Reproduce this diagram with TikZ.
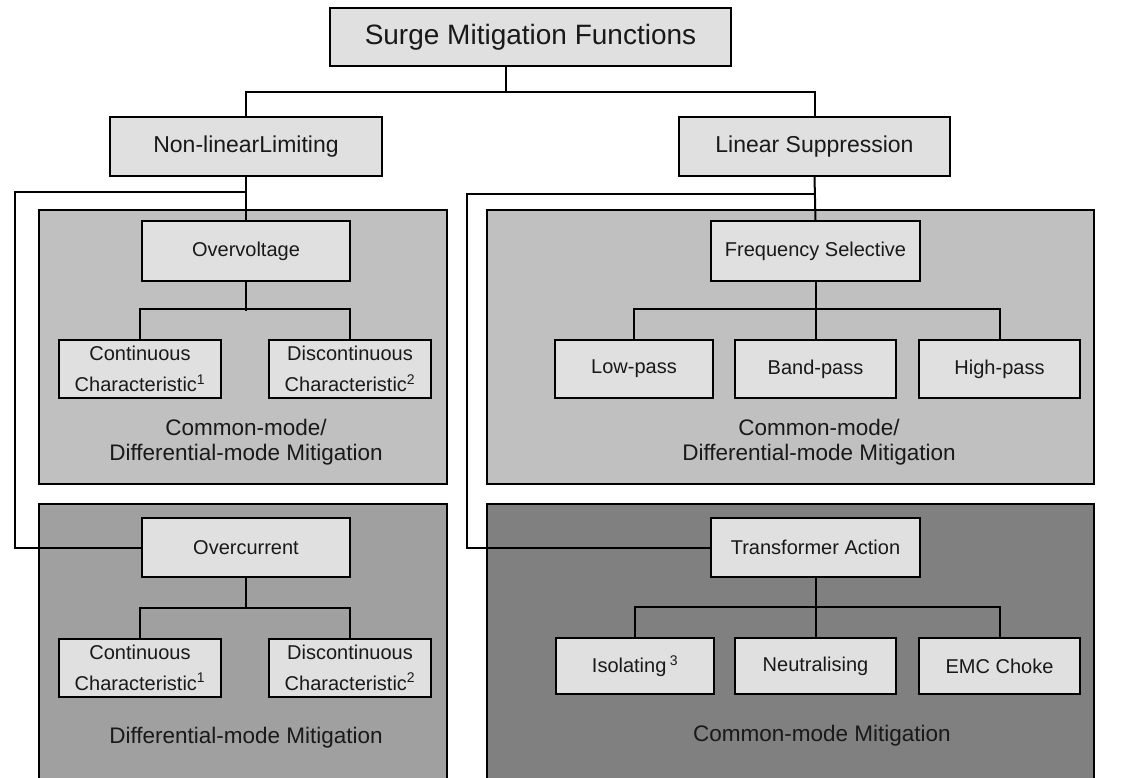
\documentclass[tikz,border=0pt]{standalone}
\usepackage{fontspec}
\setmainfont{Liberation Sans}
\definecolor{boxgray}{HTML}{E0E0E0}
\definecolor{panelA}{HTML}{C0C0C0}
\definecolor{panelB}{HTML}{A0A0A0}
\definecolor{panelC}{HTML}{808080}
\begin{document}
\begin{tikzpicture}[x=1pt,y=-1pt,
        wire/.style={line width=2pt},
        box/.style={draw,line width=2pt,fill=boxgray,inner sep=0pt,align=center,text=black!90},
        huge/.style={font=\fontsize{28}{32}\selectfont},
        big/.style={font=\fontsize{23}{28}\selectfont},
        mid/.style={font=\fontsize{20}{31}\selectfont},
        note/.style={align=center,text=black!90,font=\fontsize{22.5}{25}\selectfont}]
        \useasboundingbox (0,0) rectangle (1144,777);

        % shaded groups
        \draw[wire,fill=panelA] (39,210) rectangle (447,484);
        \draw[wire,fill=panelA] (487,210) rectangle (1094,484);
        \fill[panelB] (39,504) rectangle (447,790);
        \draw[wire] (39,790) -- (39,504) -- (447,504) -- (447,790);
        \fill[panelC] (487,504) rectangle (1094,790);
        \draw[wire] (487,790) -- (487,504) -- (1094,504) -- (1094,790);

        \node[box,huge,minimum width=401,minimum height=58] (smf) at (530.5,37) {Surge Mitigation Functions};
        \node[box,big,minimum width=272,minimum height=59] (nl) at (246,146.5) {Non-linearLimiting};
        \node[box,big,minimum width=271,minimum height=59] (ls) at (814.5,146.5) {Linear Suppression};

        \node[box,mid,minimum width=208,minimum height=60] (ov) at (246,251) {Overvoltage};
        \node[box,mid,minimum width=209,minimum height=60] (fs) at (815.5,251) {Frequency Selective};
        \node[box,mid,minimum width=208,minimum height=59] (oc) at (246,547.5) {Overcurrent};
        \node[box,mid,minimum width=209,minimum height=59] (ta) at (815.5,547.5) {Transformer Action};

        \foreach \n/\y in {1/369,2/667.5} {
            \node[box,mid,minimum width=162,minimum height=58] (c\n) at (140,\y) {Continuous\\Characteristic\textsuperscript{1}};
            \node[box,mid,minimum width=162,minimum height=58] (d\n) at (350,\y) {Discontinuous\\Characteristic\textsuperscript{2}};
        }
        \node[box,mid,minimum width=158,minimum height=58] (lp) at (634,369) {Low-pass};
        \node[box,mid,minimum width=161,minimum height=58] (bp) at (815.5,369) {Band-pass};
        \node[box,mid,minimum width=161,minimum height=58] (hp) at (999.5,369) {High-pass};
        \node[box,mid,minimum width=158,minimum height=56] (is) at (635,666) {Isolating\,\textsuperscript{3}};
        \node[box,mid,minimum width=161,minimum height=56] (ne) at (815.5,666) {Neutralising};
        \node[box,mid,minimum width=161,minimum height=56] (ec) at (999.5,666) {EMC Choke};

        \node[note] (cd1) at (246,442) {Common-mode/\\Differential-mode Mitigation};
        \node[note] (cd2) at (819,442) {Common-mode/\\Differential-mode Mitigation};
        \node[note] (dm) at (246,738) {Differential-mode Mitigation};
        \node[note] (cm) at (822,736) {Common-mode Mitigation};

        % tree lines
        \coordinate (top) at (506,92);
        \draw[wire] (smf.south -| top) -- (top);
        \draw[wire] (nl.north) |- (top) -| (ls.north);
        \draw[wire] (nl.south) -- (ov.north);
        \draw[wire] (ls.south) -- (fs.north);
        \coordinate (lloop) at (15,192);
        \coordinate (rloop) at (467,194);
        \draw[wire] (lloop -| nl.south) -- (lloop) |- (oc.west);
        \draw[wire] (rloop -| ls.south) -- (rloop) |- (ta.west);
        \foreach \p/\a/\b in {ov/c1/d1,oc/c2/d2} {
            \draw[wire] (\p.south) -- ++(0,29);
            \draw[wire] (\a.north) -- ++(0,-30) -| (\b.north);
        }
        \foreach \p/\a/\m/\b in {fs/lp/bp/hp,ta/is/ne/ec} {
            \draw[wire] (\p.south) -- (\m.north);
            \draw[wire] (\a.north) -- ++(0,-30) -| (\b.north);
        }
    \end{tikzpicture}
\end{document}
